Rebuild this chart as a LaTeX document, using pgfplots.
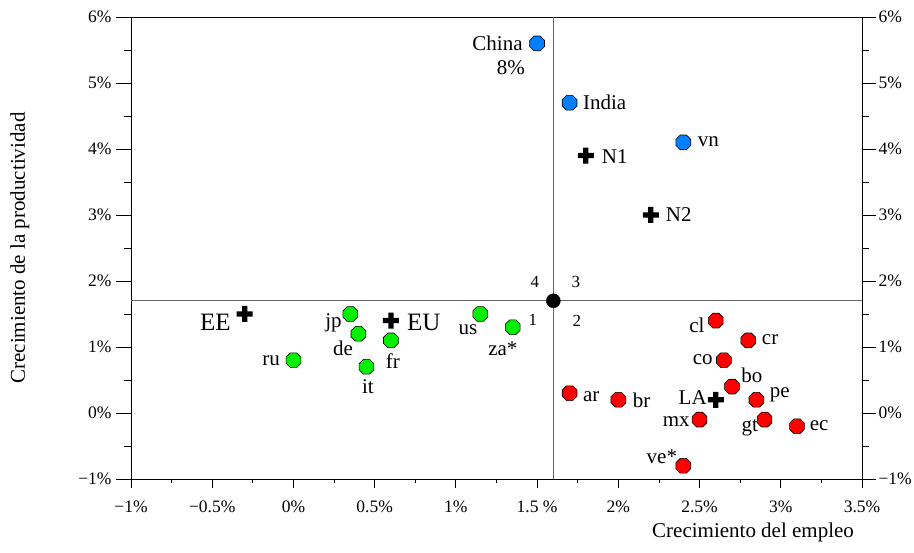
\documentclass[border=0pt]{standalone}
\usepackage{fontspec}
\setmainfont{Liberation Serif}
\usepackage{pgfplots}
\pgfplotsset{compat=1.18}

\definecolor{cblue}{RGB}{0,128,255}
\definecolor{cgreen}{RGB}{0,240,0}
\definecolor{cred}{RGB}{255,0,0}
\definecolor{refgray}{RGB}{100,100,100}

\pgfdeclareplotmark{oct}{%
 \pgfpathmoveto{\pgfpointpolar{22.5}{\pgfplotmarksize}}%
 \pgfpathlineto{\pgfpointpolar{67.5}{\pgfplotmarksize}}%
 \pgfpathlineto{\pgfpointpolar{112.5}{\pgfplotmarksize}}%
 \pgfpathlineto{\pgfpointpolar{157.5}{\pgfplotmarksize}}%
 \pgfpathlineto{\pgfpointpolar{202.5}{\pgfplotmarksize}}%
 \pgfpathlineto{\pgfpointpolar{247.5}{\pgfplotmarksize}}%
 \pgfpathlineto{\pgfpointpolar{292.5}{\pgfplotmarksize}}%
 \pgfpathlineto{\pgfpointpolar{337.5}{\pgfplotmarksize}}%
 \pgfpathclose
 \pgfusepathqfillstroke}

\pgfdeclareplotmark{fatplus}{%
 \pgfpathrectanglecorners{\pgfpoint{-\pgfplotmarksize}{-0.33\pgfplotmarksize}}{\pgfpoint{\pgfplotmarksize}{0.33\pgfplotmarksize}}%
 \pgfpathrectanglecorners{\pgfpoint{-0.33\pgfplotmarksize}{-\pgfplotmarksize}}{\pgfpoint{0.33\pgfplotmarksize}{\pgfplotmarksize}}%
 \pgfusepathqfill}

\pgfplotstableread{
x y
1.5 5.6
1.7 4.7
2.4 4.1
}\blue
\pgfplotstableread{
x y
0.00 0.8
0.35 1.5
0.40 1.2
0.60 1.1
0.45 0.7
1.15 1.5
1.35 1.3
}\green
\pgfplotstableread{
x y
1.70 0.3
2.00 0.2
2.60 1.4
2.80 1.1
2.65 0.8
2.70 0.4
2.85 0.2
2.50 -0.1
2.90 -0.1
3.10 -0.2
2.40 -0.8
}\red
\pgfplotstableread{
x y
-0.3 1.5
0.6 1.4
1.8 3.9
2.2 3.0
2.6 0.2
}\cross

\newcommand\lf{\fontsize{21}{24}\selectfont}
\newcommand\tf{\fontsize{17.5}{20}\selectfont}

\begin{document}
\begin{tikzpicture}
\useasboundingbox (-131pt,-74pt) rectangle (783pt,479pt);
\pgfplotsset{
  base/.style={
    scale only axis, width=731pt, height=462pt,
    at={(0pt,0pt)}, anchor=south west,
    xmin=-1, xmax=3.5, ymin=-1, ymax=6,
    axis line style={black, line width=0.8pt},
    tick style={black, line width=0.8pt},
    tick align=outside,
    ticklabel style={font=\tf},
  }
}
% left y axis
\begin{axis}[base,
  xtick=\empty,
  ytick={-1,0,1,2,3,4,5,6},
  yticklabels={−1\%,0\%,1\%,2\%,3\%,4\%,5\%,6\%},
  minor y tick num=1,
  ytick pos=left,
  major tick length=15pt, minor tick length=7pt,
  yticklabel style={xshift=-1pt},
  ylabel={Crecimiento de la productividad},
  ylabel style={font=\lf, at={(axis description cs:-0.152,0.5)}, anchor=center},
]
\end{axis}
% right y axis
\begin{axis}[base,
  xtick=\empty,
  ytick={-1,0,1,2,3,4,5,6},
  yticklabels={−1\%,0\%,1\%,2\%,3\%,4\%,5\%,6\%},
  minor y tick num=1,
  ytick pos=right, yticklabel pos=right,
  major tick length=14pt, minor tick length=7pt,
  yticklabel style={xshift=-1pt},
]
\end{axis}
% main axis
\begin{axis}[base,
  clip=false,
  xtick={-1,-0.5,0,0.5,1,1.5,2,2.5,3,3.5},
  xticklabels={−1\%,−0.5\%,0\%,0.5\%,1\%,1.5 \%,2\%,2.5\%,3\%,3.5\%},
  minor x tick num=1,
  xtick pos=bottom,
  ytick=\empty,
  major tick length=9pt, minor tick length=4pt,
  xticklabel style={yshift=-9pt},
  xlabel={Crecimiento del empleo},
  xlabel style={font=\lf, at={(axis description cs:0.851,-0.115)}, anchor=center},
]
\addplot[refgray, line width=1.2pt, no marks] coordinates {(1.6,-1) (1.6,6)};
\addplot[refgray, line width=1.2pt, no marks] coordinates {(-1,1.7) (3.5,1.7)};
\addplot[only marks, mark=oct, mark size=8pt, mark options={fill=cblue, draw=black, line width=0.6pt}] table {\blue};
\addplot[only marks, mark=oct, mark size=8pt, mark options={fill=cgreen, draw=black, line width=0.6pt}] table {\green};
\addplot[only marks, mark=oct, mark size=8pt, mark options={fill=cred, draw=black, line width=0.6pt}] table {\red};
\addplot[only marks, mark=fatplus, mark size=8pt, mark options={fill=black}] table {\cross};
\addplot[only marks, mark=*, mark size=7pt, mark options={fill=black, draw=black}] coordinates {(1.6,1.7)};

\tikzset{lab/.style={font=\lf, inner sep=0pt}, big/.style={font=\fontsize{25}{28}\selectfont, inner sep=0pt}, q/.style={font=\fontsize{17}{19}\selectfont, inner sep=0pt}}
\node[lab, anchor=east] at (axis cs:1.412,5.6) {China};
\node[lab] at (axis cs:1.338,5.24) {8\%};
\node[lab, anchor=west] at (axis cs:1.782,4.71) {India};
\node[lab, anchor=west] at (axis cs:2.489,4.106) {vn};
\node[lab, anchor=west] at (axis cs:1.898,3.88) {N1};
\node[lab, anchor=west] at (axis cs:2.292,3.0) {N2};
\node[big, anchor=east] at (axis cs:-0.385,1.379) {EE};
\node[lab, anchor=east] at (axis cs:0.298,1.364) {jp};
\node[lab] at (axis cs:0.305,0.985) {de};
\node[big, anchor=west] at (axis cs:0.698,1.379) {EU};
\node[lab] at (axis cs:0.612,0.79) {fr};
\node[lab] at (axis cs:0.458,0.394) {it};
\node[lab, anchor=east] at (axis cs:-0.083,0.788) {ru};
\node[lab] at (axis cs:1.074,1.258) {us};
\node[lab] at (axis cs:1.289,0.97) {za*};
\node[q] at (axis cs:1.474,1.409) {1};
\node[q] at (axis cs:1.745,1.394) {2};
\node[q] at (axis cs:1.738,1.985) {3};
\node[q] at (axis cs:1.486,1.985) {4};
\node[lab, anchor=east] at (axis cs:2.532,1.333) {cl};
\node[lab, anchor=west] at (axis cs:2.883,1.106) {cr};
\node[lab, anchor=east] at (axis cs:2.582,0.803) {co};
\node[lab] at (axis cs:2.822,0.576) {bo};
\node[lab, anchor=west] at (axis cs:2.932,0.273) {pe};
\node[lab, anchor=east] at (axis cs:2.545,0.227) {LA};
\node[lab, anchor=east] at (axis cs:2.44,-0.136) {mx};
\node[lab] at (axis cs:2.809,-0.227) {gt};
\node[lab, anchor=west] at (axis cs:3.178,-0.197) {ec};
\node[lab, anchor=west] at (axis cs:1.782,0.242) {ar};
\node[lab, anchor=west] at (axis cs:2.089,0.197) {br};
\node[lab] at (axis cs:2.268,-0.667) {ve*};
\end{axis}
\end{tikzpicture}
\end{document}
